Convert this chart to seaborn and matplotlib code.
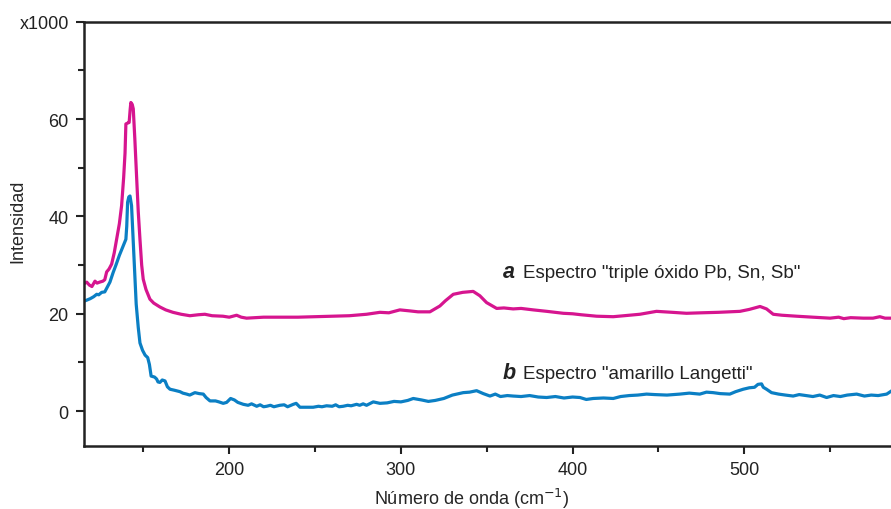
import numpy as np
import pandas as pd
import seaborn as sns
import matplotlib
matplotlib.use("Agg")
import matplotlib.pyplot as plt
from matplotlib.ticker import MultipleLocator

# spectrum a: "triple oxido Pb, Sn, Sb" (x = wavenumber cm-1, y = intensity x1000)
wn_a = [115.5, 117, 118.5, 120, 121.8, 123, 124.5, 126.4, 127.5, 128.6, 130, 131.5, 133, 134.4,
        136, 137.3, 138.5, 139.3, 139.8, 141, 141.7, 142.3, 142.7, 143.5, 144.1, 145, 146.1, 147,
        148, 149, 149.9, 151.5, 153.8, 156, 159.6, 163, 167.2, 172, 177.1, 182, 185.8, 190, 196.3,
        200, 204.3, 207, 210.1, 215, 220, 229.5, 240, 250, 260, 270, 280, 287.8, 293, 299.4, 305,
        310, 316.9, 322.7, 326, 330.5, 336, 342.1, 346, 349.9, 355.8, 360, 365.4, 370, 377.1, 385,
        394.6, 400, 405, 414, 423.7, 430, 439.2, 448.9, 458, 466.4, 475, 485, 497.5, 503, 509.2,
        513, 516.9, 522, 530.5, 540, 550, 555, 558, 562, 569.4, 575, 579, 582, 586]
int_a = [26.2, 26.5, 25.9, 25.6, 26.7, 26.3, 26.5, 26.7, 27.0, 28.6, 29.2, 30.2, 32.5, 35.3,
         38.5, 42.2, 48, 53, 59.0, 59.2, 59.3, 62, 63.4, 63.0, 62.1, 56, 47.7, 41,
         35.3, 30, 27.1, 25, 23.0, 22.2, 21.4, 20.8, 20.3, 19.9, 19.6, 19.8, 19.9, 19.6, 19.5,
         19.3, 19.7, 19.3, 19.1, 19.2, 19.3, 19.3, 19.3, 19.4, 19.5, 19.6, 19.9, 20.3, 20.2, 20.8, 20.6,
         20.4, 20.4, 21.6, 22.7, 24.0, 24.4, 24.6, 23.7, 22.3, 21.1, 21.2, 21.0, 21.1, 20.8, 20.5,
         20.1, 20.0, 19.8, 19.5, 19.4, 19.6, 19.9, 20.5, 20.3, 20.1, 20.2, 20.3, 20.5, 20.9, 21.5,
         21.0, 19.9, 19.7, 19.5, 19.3, 19.1, 19.3, 19.0, 19.2, 19.1, 19.1, 19.4, 19.1, 19.1]

# spectrum b: "amarillo Langetti"
wn_b = [115.5, 117, 119, 121, 122.8, 124, 125.7, 127.5, 129, 130.5, 132.4, 134, 136, 138.3,
        139.8, 140.3, 140.8, 141.5, 142.2, 143.1, 143.8, 144.7, 145.8, 147, 148, 149.5, 151, 152.5,
        153.5, 154.5, 156.5, 157.7, 158.5, 159.6, 161, 162.6, 164, 165.5, 168, 171.3, 173, 175.2,
        177, 180, 182.5, 184.9, 186.5, 188.8, 192, 194, 196.5, 198.5, 200.8, 203, 205, 208.2, 211,
        213, 216, 218, 220, 221.8, 224, 226, 229.5, 232, 234, 237.3, 239, 241.2, 244, 248.9, 252,
        254, 256.7, 260, 262, 264, 266.4, 269, 271, 274.2, 276, 278, 280, 283.9, 287.8, 292, 296,
        300, 304, 307.2, 312, 316, 320, 325, 330, 336.3, 340, 344.1, 348, 351.9, 355, 358, 362,
        365.4, 370, 375, 380, 384.9, 390, 395, 400, 404.3, 408, 412, 418, 423.7, 428, 433, 438,
        443.1, 448, 455, 462.5, 468, 474.1, 478, 481.9, 486, 491.6, 495, 499.4, 503, 506, 508,
        510.1, 511.1, 513, 515.9, 520, 524, 528.5, 532, 536, 540, 544, 548, 552, 556, 560, 565.5,
        570, 574, 578, 583, 586]
int_b = [22.6, 22.8, 23.1, 23.5, 24.0, 23.9, 24.4, 24.5, 25.5, 26.5, 28.5, 30, 32, 34.0,
         35.3, 38, 42.9, 44.0, 44.2, 42.2, 37, 29.9, 22, 17.2, 14, 12.5, 11.5, 11.0,
         9.6, 7.2, 7.0, 6.6, 6.0, 5.9, 6.4, 6.2, 5.0, 4.5, 4.3, 4.0, 3.7, 3.5,
         3.3, 3.8, 3.6, 3.5, 2.8, 2.1, 2.1, 1.9, 1.6, 1.8, 2.6, 2.3, 1.8, 1.4, 1.2,
         1.5, 1.0, 1.3, 0.9, 1.0, 1.2, 0.9, 1.2, 1.3, 0.9, 1.4, 1.6, 0.8, 0.8, 0.8, 1.0,
         0.9, 1.1, 1.0, 1.3, 0.9, 1.0, 1.2, 1.1, 1.4, 1.2, 1.5, 1.2, 1.9, 1.6, 1.7, 2.0,
         1.9, 2.2, 2.6, 2.3, 2.0, 2.2, 2.6, 3.3, 3.8, 3.9, 4.2, 3.6, 3.1, 3.5, 3.0, 3.2,
         3.1, 3.0, 3.2, 2.9, 2.8, 3.0, 2.7, 2.9, 2.8, 2.4, 2.6, 2.7, 2.6, 3.0, 3.2, 3.3,
         3.5, 3.4, 3.3, 3.5, 3.7, 3.5, 3.9, 3.8, 3.6, 3.5, 4.0, 4.5, 4.8, 4.9, 5.5,
         5.6, 4.9, 4.5, 3.8, 3.5, 3.3, 3.1, 3.4, 3.2, 3.0, 3.3, 2.8, 3.2, 3.0, 3.3, 3.5,
         3.1, 3.3, 3.2, 3.5, 4.2]

y_ticks = [0, 20, 40, 60, 80]
y_ticklabels = ["0", "20", "40", "60", "x1000"]
x_ticks = [200, 300, 400, 500]

df = pd.concat([
    pd.DataFrame({"wn": wn_a, "intensity": int_a, "serie": "a"}),
    pd.DataFrame({"wn": wn_b, "intensity": int_b, "serie": "b"}),
])
palette = {"a": "#d6158f", "b": "#0b7fc4"}

sns.set_style("ticks")
plt.rcParams["font.family"] = ["Liberation Sans", "DejaVu Sans"]
plt.rcParams["text.color"] = "#222222"

fig = plt.figure(figsize=(8.91, 5.10), dpi=100)
ax = fig.add_axes([84 / 891, 1 - 446.7 / 510, 1 - 84 / 891, (446.7 - 22.7) / 510])

sns.lineplot(data=df, x="wn", y="intensity", hue="serie", palette=palette,
             linewidth=2.3, legend=False, ax=ax, sort=False)

ax.set_xlim(115.4, 585.5)
ax.set_ylim(-7.1, 80)

ax.set_xticks(x_ticks)
ax.set_xticks([150, 250, 350, 450, 550], minor=True)
ax.set_yticks(y_ticks)
ax.set_yticklabels(y_ticklabels)
ax.set_yticks([10, 30, 50, 70], minor=True)

for side in ["left", "bottom", "top"]:
    ax.spines[side].set_linewidth(1.8)
    ax.spines[side].set_color("#222222")
ax.spines["right"].set_visible(False)

ax.tick_params(axis="both", which="major", direction="out", length=6, width=1.5,
               labelsize=13, colors="#222222", pad=5)
ax.tick_params(axis="both", which="minor", direction="out", length=4, width=1.5,
               colors="#222222")

ax.set_xlabel("Número de onda (cm$^{-1}$)", fontsize=13)
ax.set_ylabel("Intensidad", fontsize=13)
ax.xaxis.set_label_coords(0.48, -0.095)
ax.yaxis.set_label_coords(-0.072, 0.532)

# annotations for the two spectra
ax.text(359.4, 27.5, "a", fontsize=15.5, fontweight="bold", fontstyle="italic", va="baseline")
ax.text(370.9, 27.5, "Espectro \"triple óxido Pb, Sn, Sb\"", fontsize=13.5, va="baseline")
ax.text(359.4, 6.9, "b", fontsize=15.5, fontweight="bold", fontstyle="italic", va="baseline")
ax.text(370.9, 6.9, "Espectro \"amarillo Langetti\"", fontsize=13.5, va="baseline")

fig.savefig("out.png", dpi=100)
